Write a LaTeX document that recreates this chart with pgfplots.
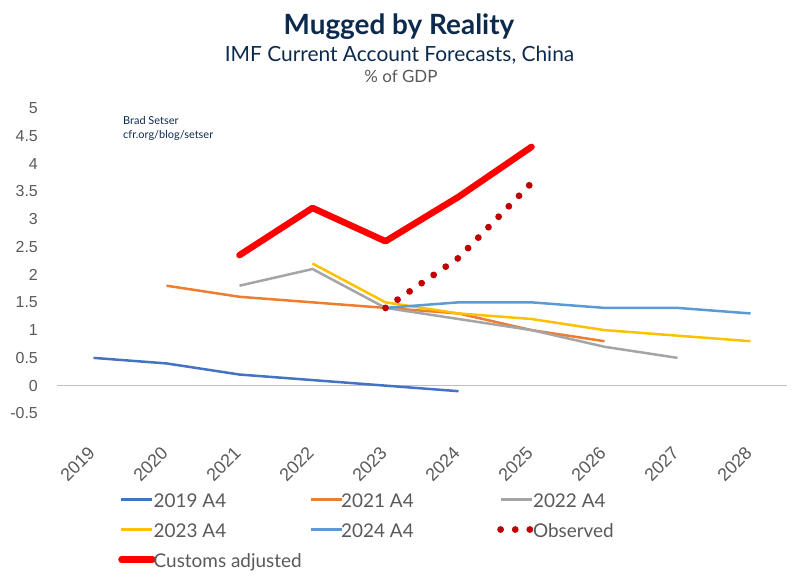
\documentclass[border=0pt]{standalone}
\usepackage{fontspec}
\setmainfont{Liberation Sans}
\newfontfamily\lato{Lato}
\usepackage{pgfplots}
\pgfplotsset{compat=1.18}
\definecolor{navy}{HTML}{0C2A4D}
\definecolor{txtgray}{HTML}{595959}
\definecolor{zgray}{HTML}{BFBFBF}
\definecolor{cA}{HTML}{4472C4}
\definecolor{cB}{HTML}{ED7D31}
\definecolor{cC}{HTML}{A5A5A5}
\definecolor{cD}{HTML}{FFC000}
\definecolor{cE}{HTML}{5B9BD5}
\definecolor{cObs}{HTML}{C00000}
\definecolor{cCus}{HTML}{FF0000}
\newcommand{\legtxt}[1]{\hspace{-2bp}\makebox[156bp][l]{#1}}
\begin{document}
\begin{tikzpicture}
\useasboundingbox (0bp,0bp) rectangle (800bp,581bp);
\node[anchor=base, font=\lato\bfseries\fontsize{28}{32}\selectfont, text=navy, inner sep=0pt] at (399bp,546bp) {Mugged by Reality};
\node[anchor=base, font=\lato\fontsize{21}{24}\selectfont, text=navy, inner sep=0pt] at (399.5bp,519bp) {IMF Current Account Forecasts, China};
\node[anchor=base, font=\lato\fontsize{17}{20}\selectfont, text=txtgray, inner sep=0pt] at (401bp,498bp) {\% of GDP};
\node[anchor=base west, font=\lato\fontsize{11}{13}\selectfont, text=navy, inner sep=0pt] at (123bp,456bp) {Brad Setser};
\node[anchor=base west, font=\lato\fontsize{11}{13}\selectfont, text=navy, inner sep=0pt] at (123bp,442bp) {cfr.org/blog/setser};
\begin{axis}[
  at={(57bp,167.6bp)}, anchor=south west,
  scale only axis, width=730bp, height=305.4bp,
  xmin=-0.5, xmax=9.5, ymin=-0.5, ymax=5,
  axis line style={draw=none}, tick style={draw=none},
  xtick={0,...,9},
  xticklabels={2019,2020,2021,2022,2023,2024,2025,2026,2027,2028},
  ytick={-0.5,0,0.5,1,1.5,2,2.5,3,3.5,4,4.5,5},
  yticklabels={-0.5,0,0.5,1,1.5,2,2.5,3,3.5,4,4.5,5},
  yticklabel style={font=\fontsize{16}{18}\selectfont, text=txtgray, inner sep=0pt, xshift=-19bp},
  xticklabel style={font=\fontsize{18}{20}\selectfont, text=txtgray, rotate=45, anchor=north east, inner sep=0pt, xshift=-27bp, yshift=-18bp},
  extra y ticks={0}, extra y tick labels={},
  extra y tick style={grid=major, major grid style={zgray, line width=1bp}},
  legend columns=3,
  legend style={at={(0.0836,-0.2698)}, anchor=north west, draw=none, fill=none,
    inner sep=0pt, column sep=0pt, row sep=14bp,
    font=\lato\fontsize{19}{21}\selectfont, text=txtgray,
    nodes={inner sep=0pt, text height=12bp, text depth=4bp}},
  legend image code/.code={\draw[#1] (0bp,0.45em) -- (31bp,0.45em);},
]
\addplot[cA, line width=2.5bp] coordinates {(0,0.5)(1,0.4)(2,0.2)(3,0.1)(4,0.0)(5,-0.1)};
\addlegendentry{\legtxt{2019 A4}}
\addplot[cB, line width=2.5bp] coordinates {(1,1.8)(2,1.6)(3,1.5)(4,1.4)(5,1.3)(6,1.0)(7,0.8)};
\addlegendentry{\legtxt{2021 A4}}
\addplot[cC, line width=2.5bp] coordinates {(2,1.8)(3,2.1)(4,1.4)(5,1.2)(6,1.0)(7,0.7)(8,0.5)};
\addlegendentry{\legtxt{2022 A4}}
\addplot[cD, line width=2.5bp] coordinates {(3,2.2)(4,1.5)(5,1.3)(6,1.2)(7,1.0)(8,0.9)(9,0.8)};
\addlegendentry{\legtxt{2023 A4}}
\addplot[cE, line width=2.5bp] coordinates {(4,1.4)(5,1.5)(6,1.5)(7,1.4)(8,1.4)(9,1.3)};
\addlegendentry{\legtxt{2024 A4}}
\addplot[cObs, line width=6.8bp, line cap=round, dash pattern=on 0bp off 14.6bp] coordinates {(4,1.4)(5,2.3)(6,3.65)};
\addlegendentry{\legtxt{Observed}}
\addplot[cCus, line width=6.5bp, line cap=round, line join=round] coordinates {(2,2.35)(3,3.2)(4,2.6)(5,3.4)(6,4.3)};
\addlegendentry{\legtxt{Customs adjusted}}
\end{axis}
\end{tikzpicture}
\end{document}
